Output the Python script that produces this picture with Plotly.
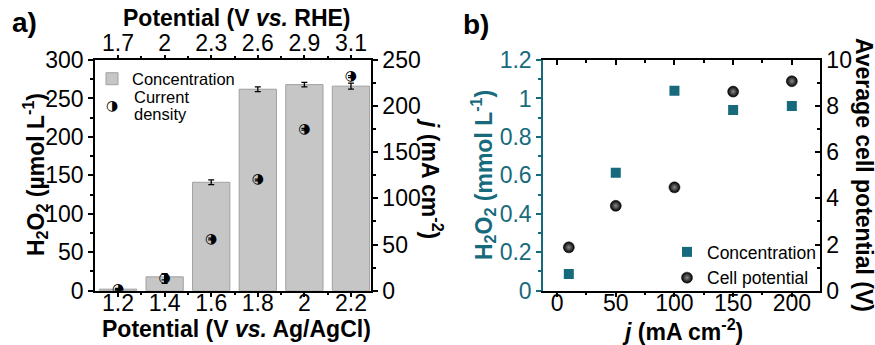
import plotly.graph_objects as go

# ---- panel a: H2O2 concentration and current density vs. applied potential
potential_agagcl = [1.2, 1.4, 1.6, 1.8, 2.0, 2.2]
potential_rhe_labels = ["1.7", "2", "2.3", "2.6", "2.9", "3.1"]
h2o2_umol = [2, 18, 141, 262, 268, 266]
h2o2_umol_err = [1, 4, 3, 3, 3, 4]
current_density = [1, 13, 56, 120, 175, 232]
current_density_err = [0.5, 5, 1, 1, 1, 1]

# ---- panel b: H2O2 concentration and average cell potential vs. current density
j_applied = [10, 50, 100, 150, 200]
h2o2_mmol = [0.087, 0.614, 1.04, 0.94, 0.961]
cell_potential = [1.88, 3.68, 4.48, 8.63, 9.08]

W, H = 875, 345
FONT = "Liberation Sans, Arial, sans-serif"
TEAL = "#176a7c"
TICK = 23
TITLE = 23


def px_x(v):
    return v / W


def px_y(v):
    return 1 - v / H


fig = go.Figure()

fig.add_trace(go.Bar(
    x=potential_agagcl, y=h2o2_umol, width=0.16,
    name="Concentration",
    marker=dict(color="#c6c6c6", line=dict(color="#a0a0a0", width=1)),
    error_y=dict(type="data", array=h2o2_umol_err, color="black", thickness=1.3, width=3),
    xaxis="x", yaxis="y", legend="legend",
))

fig.add_trace(go.Scatter(
    x=potential_agagcl, y=current_density, mode="text", text=["◑"] * len(current_density),
    textfont=dict(family="DejaVu Sans", size=14, color="black"),
    textposition="middle center",
    error_y=dict(type="data", array=current_density_err, color="black", thickness=1.3, width=3),
    xaxis="x", yaxis="y2", showlegend=False, hoverinfo="skip",
))

# the RHE scale shares the same positions; an invisible trace keeps that axis drawn
fig.add_trace(go.Scatter(
    x=potential_agagcl, y=h2o2_umol, mode="markers", marker=dict(opacity=0),
    xaxis="x2", yaxis="y", showlegend=False, hoverinfo="skip",
))

fig.add_trace(go.Scatter(
    x=j_applied, y=h2o2_mmol, mode="markers", name="Concentration",
    marker=dict(symbol="square", size=10, color=TEAL, line=dict(width=0)),
    xaxis="x3", yaxis="y3", legend="legend2",
))

fig.add_trace(go.Scatter(
    x=j_applied, y=cell_potential, mode="markers", name="Cell potential",
    marker=dict(symbol="circle", size=11, color="black",
                gradient=dict(type="radial", color="#8a8a8a"),
                line=dict(width=0.5, color="black")),
    xaxis="x3", yaxis="y4", legend="legend2",
))

fig.add_trace(go.Scatter(
    x=j_applied, y=h2o2_mmol, mode="markers", marker=dict(opacity=0),
    xaxis="x4", yaxis="y3", showlegend=False, hoverinfo="skip",
))

dom_a = [px_x(95), px_x(371)]
dom_b = [px_x(543), px_x(820)]
dom_y = [px_y(290.7), px_y(60)]

axis_common = dict(
    showgrid=False, zeroline=False, showline=True, linewidth=1.5, automargin=False,
    tickwidth=1.5, tickfont=dict(size=TICK, family=FONT, color="black"),
)

fig.update_layout(
    width=W, height=H,
    margin=dict(l=0, r=0, t=0, b=0, autoexpand=False),
    paper_bgcolor="white", plot_bgcolor="white",
    font=dict(family=FONT, color="black"),
    barmode="overlay",
    xaxis=dict(
        **axis_common, domain=dom_a, anchor="y", range=[1.101, 2.286], ticklen=5,
        tick0=1.2, dtick=0.2, ticks="outside", linecolor="black", tickcolor="black",
        ticklabelstandoff=-14,
        minor=dict(tick0=1.2, dtick=0.1, ticks="outside", ticklen=3, tickcolor="black"),
    ),
    xaxis2=dict(
        **axis_common, overlaying="x", side="top", anchor="y", range=[1.101, 2.286], ticklen=3,
        tickmode="array", tickvals=potential_agagcl, ticktext=potential_rhe_labels,
        ticks="outside", linecolor="black", tickcolor="black",
        ticklabelstandoff=-5,
        minor=dict(tickmode="linear", tick0=1.2, dtick=0.1, ticks="outside", ticklen=2, tickcolor="black"),
    ),
    yaxis=dict(
        **axis_common, domain=dom_y, anchor="x", range=[0, 300], dtick=50, ticklen=5,
        ticks="outside", linecolor="black", tickcolor="black",
        minor=dict(dtick=25, ticks="outside", ticklen=3, tickcolor="black"),
    ),
    yaxis2=dict(
        **axis_common, overlaying="y", side="right", anchor="x", range=[0, 250], dtick=50, ticklen=5,
        ticks="outside", linecolor="black", tickcolor="black",
        minor=dict(dtick=25, ticks="outside", ticklen=3, tickcolor="black"),
    ),
    xaxis3=dict(
        **axis_common, domain=dom_b, anchor="y3", range=[-12, 224], dtick=50, ticklen=5,
        ticks="outside", linecolor="black", tickcolor="black",
        ticklabelstandoff=-14,
        minor=dict(dtick=25, ticks="outside", ticklen=3, tickcolor="black"),
    ),
    xaxis4=dict(
        **axis_common, overlaying="x3", side="top", anchor="y3", range=[-12, 224], dtick=50, ticklen=5,
        ticks="inside", showticklabels=False, linecolor="black", tickcolor="black",
        minor=dict(dtick=25, ticks="inside", ticklen=3, tickcolor="black"),
    ),
    yaxis3=dict(
        **axis_common, domain=dom_y, anchor="x3", range=[0, 1.2], dtick=0.2, ticklen=5,
        ticks="outside", linecolor=TEAL, tickcolor=TEAL,
        minor=dict(dtick=0.1, ticks="outside", ticklen=3, tickcolor=TEAL),
    ),
    yaxis4=dict(
        **axis_common, overlaying="y3", side="right", anchor="x3", range=[0, 10], dtick=2, ticklen=5,
        ticks="inside", linecolor="black", tickcolor="black",
        minor=dict(dtick=1, ticks="inside", ticklen=3, tickcolor="black"),
    ),
    legend=dict(
        x=px_x(92), y=px_y(79), xanchor="left", yanchor="middle",
        bgcolor="rgba(0,0,0,0)", font=dict(size=16.5, family=FONT),
    ),
    legend2=dict(
        x=px_x(667), y=px_y(265), xanchor="left", yanchor="middle",
        bgcolor="rgba(0,0,0,0)", font=dict(size=17.5, family=FONT),
        tracegroupgap=0,
    ),
)
fig.layout.yaxis3.tickfont.color = TEAL

annotations = [
    dict(text="<b>a)</b>", x=px_x(24), y=px_y(23), font=dict(size=28)),
    dict(text="<b>b)</b>", x=px_x(476), y=px_y(25), font=dict(size=28)),
    # axis titles
    dict(text="<b>Potential (V <i>vs.</i> Ag/AgCl)</b>", x=px_x(236), y=px_y(329),
         font=dict(size=TITLE)),
    dict(text="<b>Potential (V <i>vs.</i> RHE)</b>", x=px_x(237), y=px_y(18),
         font=dict(size=TITLE)),
    dict(text="<b>H<sub>2</sub>O<sub>2</sub> (µmol L<sup>-1</sup>)</b>", x=px_x(35), y=px_y(175),
         textangle=-90, font=dict(size=TITLE)),
    dict(text="<b><i>j</i> (mA cm<sup>-2</sup>)</b>", x=px_x(432), y=px_y(178),
         textangle=90, font=dict(size=TITLE)),
    dict(text="<b><i>j</i> (mA cm<sup>-2</sup>)</b>", x=px_x(682), y=px_y(330),
         font=dict(size=TITLE)),
    dict(text="<b>H<sub>2</sub>O<sub>2</sub> (mmol L<sup>-1</sup>)</b>", x=px_x(483), y=px_y(175),
         textangle=-90, font=dict(size=TITLE, color=TEAL)),
    dict(text="<b>Average cell potential (V)</b>", x=px_x(864), y=px_y(175),
         textangle=90, font=dict(size=TITLE)),
    # second legend entry of panel a
    dict(text="◑", x=px_x(112), y=px_y(105),
         font=dict(family="DejaVu Sans", size=14)),
    dict(text="Current", x=px_x(132), y=px_y(97), xanchor="left", font=dict(size=16.5)),
    dict(text="density", x=px_x(132), y=px_y(114), xanchor="left", font=dict(size=16.5)),
]
for a in annotations:
    a.setdefault("xanchor", "center")
    fig.add_annotation(xref="paper", yref="paper", yanchor="middle", showarrow=False, **a)

fig.write_html("out.html")
